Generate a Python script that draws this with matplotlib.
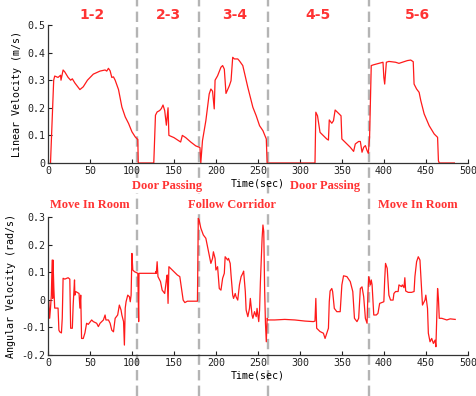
import numpy as np
import matplotlib
matplotlib.use('Agg')
import matplotlib.pyplot as plt
from matplotlib.lines import Line2D
import matplotlib.transforms as mtransforms

# linear velocity trace (time, m/s)
lin_t = [3, 6.8, 8, 12, 15, 15.5, 18, 20, 24, 27, 29, 32, 38, 42, 47, 54, 62, 68, 70, 72,
         74, 76, 78, 80, 84, 88, 92, 96, 100, 104, 107, 107.5,
         126, 128, 130, 133, 135, 137, 139, 141, 142, 143, 144, 150, 158, 160, 164, 170, 176,
         181, 182,
         184, 188, 192, 194, 196, 198, 199, 202, 206, 208, 210, 212, 216, 218, 220, 222, 226,
         228, 232, 238, 244, 248, 252, 256, 260, 261,
         318, 319, 321, 324, 328, 332, 334, 335, 338, 340, 342, 346, 349, 350, 354, 360, 364,
         366, 370, 372, 374, 376, 378, 380, 381.5, 383, 384, 385,
         388, 394, 399, 400, 401, 403, 406, 414, 418, 422, 428, 432, 435, 436, 439, 442, 444,
         448, 454, 460, 464, 465, 466, 484]
lin_v = [0, 0.30, 0.315, 0.31, 0.318, 0.30, 0.337, 0.33, 0.31, 0.30, 0.305, 0.29, 0.266, 0.276,
         0.30, 0.322, 0.333, 0.337, 0.333, 0.343, 0.334, 0.31, 0.312, 0.30, 0.266, 0.203, 0.167,
         0.143, 0.113, 0.094, 0.085, 0,
         0, 0.173, 0.185, 0.19, 0.197, 0.21, 0.19, 0.137, 0.167, 0.20, 0.10, 0.092, 0.076, 0.10,
         0.092, 0.076, 0.062, 0.056, 0,
         0.081, 0.153, 0.25, 0.268, 0.26, 0.196, 0.30, 0.316, 0.347, 0.353, 0.34, 0.252, 0.28,
         0.298, 0.383, 0.377, 0.377, 0.37, 0.353, 0.274, 0.202, 0.171, 0.135, 0.117, 0.087, 0,
         0, 0.184, 0.171, 0.111, 0.099, 0.087, 0.083, 0.156, 0.144, 0.153, 0.192, 0.18, 0.171,
         0.087, 0.075, 0.057, 0.042, 0.069, 0.078, 0.078, 0.039, 0.057, 0.063, 0.045, 0.035,
         0.093, 0.22, 0.353,
         0.356, 0.361, 0.365, 0.31, 0.286, 0.365, 0.368, 0.365, 0.361, 0.365, 0.371, 0.373,
         0.367, 0.286, 0.268, 0.256, 0.226, 0.178, 0.135, 0.105, 0.093, 0.008, 0, 0]

# angular velocity trace, (time, rad/s) pairs per stretch
ang_room1 = [(1, -0.007), (2, -0.067), (3, -0.03), (4, 0.017), (5, 0.144), (5.6, 0.005),
             (6, 0.144), (7, 0.041), (8, -0.03), (12, -0.03), (13, -0.11), (14, -0.116),
             (16, -0.12), (17, -0.067), (18, 0.078), (20, 0.075), (24, 0.08), (26, 0.075),
             (27, -0.103), (29, -0.103), (30, -0.019), (31, 0.041), (31.6, 0.072), (32, 0.017),
             (33, 0.03), (37, 0.023), (38, -0.03), (39, 0.017), (40, -0.14), (42, -0.14),
             (44, -0.12), (46, -0.085), (48, -0.089), (52, -0.073), (54, -0.079), (58, -0.085),
             (60, -0.097), (62, -0.085), (66, -0.073), (68, -0.055), (69, -0.073), (72, -0.073),
             (74, -0.085), (76, -0.11), (78, -0.116), (80, -0.067), (83, -0.055), (85, -0.019),
             (87, -0.037), (88, -0.055), (90, -0.079), (91, -0.164), (92, -0.03), (93, -0.007),
             (95, 0.017), (97, 0.011), (98, -0.007), (99, 0.017), (100, 0.168), (101, 0.108),
             (103, 0.102), (107, 0.096)]
ang_door1 = [(108, -0.079), (108.4, 0.096), (128, 0.096), (128.5, 0.102), (129, 0.096),
             (130, 0.138), (131, 0.084), (134, 0.066), (136, 0.035), (139, 0.023), (141, 0.072),
             (142, 0.09), (143, -0.013), (144, 0.12), (146, 0.114), (150, 0.102), (154, 0.09),
             (157, 0.084), (159, 0.041), (161, -0.001), (163, -0.01), (166, -0.005), (178, -0.005)]
ang_corr = [(179, 0.295), (180, 0.289), (182, 0.26), (185, 0.235), (188, 0.223), (190, 0.193),
            (192, 0.162), (194, 0.132), (196, 0.15), (197, 0.174), (199, 0.15), (200, 0.108),
            (202, 0.12), (204, 0.041), (206, 0.035), (208, 0.078), (210, 0.096), (211, 0.156),
            (214, 0.144), (215, 0.15), (217, 0.132), (218, 0.09), (220, 0.017), (221, 0.005),
            (223, 0.023), (224, 0.011), (226, -0.001), (228, 0.054), (230, 0.084), (232, 0.096),
            (233, 0.104), (235, 0.03), (236, -0.037), (238, -0.061), (240, -0.031), (241, 0.005),
            (243, -0.055), (244, -0.067), (246, -0.043), (248, -0.061), (249, -0.031),
            (251, -0.079), (252, -0.037), (253, 0.066), (255, 0.223), (256, 0.271), (257, 0.247),
            (258, 0.041), (259, -0.085), (260, -0.152), (261, -0.067)]
ang_door2 = [(262, -0.073), (270, -0.073), (282, -0.071), (294, -0.073), (306, -0.077),
             (316, -0.079), (318, -0.077), (319, 0.005), (320, -0.103), (324, -0.115),
             (328, -0.121), (330, -0.14), (332, -0.121), (334, -0.103), (335, -0.007),
             (336, 0.032), (338, 0.041), (339, 0.03), (341, -0.031), (344, -0.043), (348, -0.043),
             (350, 0.054), (352, 0.087), (356, 0.084), (360, 0.066), (363, 0.03), (365, -0.067),
             (368, -0.079), (370, -0.067), (372, 0.041), (374, 0.047), (376, 0.011),
             (378, -0.067), (380, -0.085), (381, 0.02)]
ang_room2 = [(382, 0.084), (384, 0.054), (385, 0.072), (386, 0.054), (388, -0.055),
             (391, -0.055), (393, -0.049), (395, -0.013), (400, -0.007), (401, 0.072),
             (402, 0.132), (404, 0.114), (406, 0.017), (408, -0.001), (411, -0.001), (412, 0.023),
             (414, 0.03), (417, 0.03), (418, 0.054), (421, 0.048), (422, 0.054), (424, 0.044),
             (425, 0.08), (426, 0.032), (429, 0.027), (433, 0.027), (436, 0.03), (437, 0.084),
             (439, 0.138), (441, 0.156), (443, 0.144), (444, 0.09), (446, -0.019), (447, -0.013),
             (449, -0.001), (450, 0.017), (452, -0.031), (453, -0.121), (455, -0.152),
             (457, -0.14), (459, -0.158), (461, -0.146), (462, -0.17), (464, 0.041), (465, 0.005),
             (466, -0.067), (469, -0.067), (475, -0.073), (479, -0.069), (485, -0.071)]

bounds = [106, 180, 262, 382]
seg_names = ['1-2', '2-3', '3-4', '4-5', '5-6']
seg_pos = [52, 143, 222, 321, 440]
top_phases = ['Door Passing', 'Door Passing']
top_phase_pos = [142, 330]
bot_phases = ['Move In Room', 'Follow Corridor', 'Move In Room']
bot_phase_pos = [50, 219, 440]

xticks = list(range(0, 501, 50))
lin_yticks = [0, 0.1, 0.2, 0.3, 0.4, 0.5]
lin_ylabels = ['0', '0.1', '0.2', '0.3', '0.4', '0.5']
ang_yticks = [-0.2, -0.1, 0, 0.1, 0.2, 0.3]
ang_ylabels = ['-0.2', '-0.1', '0', '0.1', '0.2', '0.3']

red = '#ff1a1a'
txt_red = '#ff3333'
mono = 'DejaVu Sans Mono'

ang = ang_room1 + ang_door1 + ang_corr + ang_door2 + ang_room2
ang_t = [p[0] for p in ang]
ang_w = [p[1] for p in ang]

fig = plt.figure(figsize=(4.76, 3.96), dpi=100)
ax1 = fig.add_axes([0.1008, 0.5884, 0.882, 0.3485])
ax2 = fig.add_axes([0.1008, 0.1035, 0.882, 0.3485])

ax1.plot(lin_t, lin_v, color=red, lw=0.9)
ax2.plot(ang_t, ang_w, color=red, lw=0.9)

for ax, yt, yl, ylab in [(ax1, lin_yticks, lin_ylabels, 'Linear Velocity (m/s)'),
                         (ax2, ang_yticks, ang_ylabels, 'Angular Velocity (rad/s)')]:
    ax.set_xlim(0, 500)
    ax.set_ylim(yt[0], yt[-1])
    ax.set_xticks(xticks)
    ax.set_xticklabels([str(x) for x in xticks], family=mono, fontsize=7.2)
    ax.set_yticks(yt)
    ax.set_yticklabels(yl, family=mono, fontsize=7.2)
    ax.tick_params(direction='in', length=3, width=0.8, pad=2, colors='#222222')
    ax.spines['top'].set_visible(False)
    ax.spines['right'].set_visible(False)
    for s in ['left', 'bottom']:
        ax.spines[s].set_color('#333333')
        ax.spines[s].set_linewidth(0.9)
    ax.set_xlabel('Time(sec)', family=mono, fontsize=7.2, labelpad=2)
    ax.set_ylabel(ylab, family=mono, fontsize=7.2, labelpad=4)
    ax.patch.set_alpha(0)

# dashed separators running through the whole figure, under the axes content
trans = mtransforms.blended_transform_factory(ax1.transData, fig.transFigure)
for b in bounds:
    fig.add_artist(Line2D([b, b], [0, 1], transform=trans, color='#b4b4b4',
                          lw=1.7, dashes=(4.4, 2.2), zorder=-1))

box = dict(facecolor='white', edgecolor='none', pad=0.5)
for name, p in zip(seg_names, seg_pos):
    ax1.text(p, 0.962, name, transform=trans, ha='center', va='center', color=txt_red,
             fontsize=10, fontweight='bold', family='DejaVu Sans')
for name, p in zip(top_phases, top_phase_pos):
    ax1.text(p, 0.530, name, transform=trans, ha='center', va='center', color=txt_red,
             fontsize=9, fontweight='bold', family='Liberation Serif', bbox=box)
for name, p in zip(bot_phases, bot_phase_pos):
    ax2.text(p, 0.482, name, transform=trans, ha='center', va='center', color=txt_red,
             fontsize=9, fontweight='bold', family='Liberation Serif', bbox=box)

fig.savefig('out.png', dpi=100)
